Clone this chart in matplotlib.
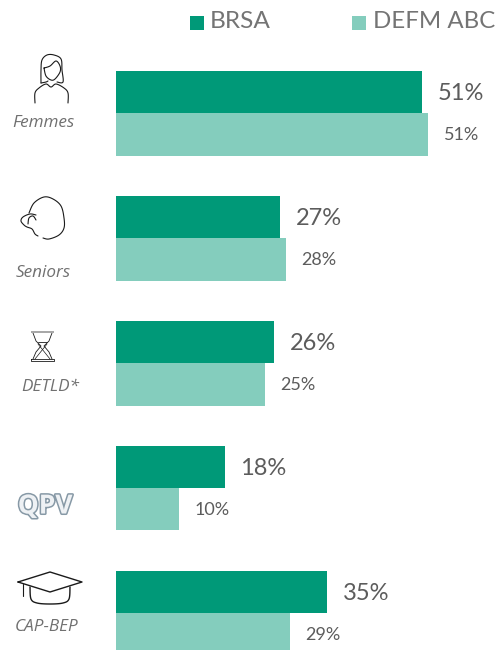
import numpy as np
import matplotlib
matplotlib.use('Agg')
import matplotlib.pyplot as plt
import matplotlib.patheffects as pe
from matplotlib.patches import Rectangle

categories = ['Femmes', 'Seniors', 'DETLD*', 'QPV', 'CAP-BEP']
brsa_bars = [50.8, 27.2, 26.2, 18.0, 35.0]
defm_bars = [51.8, 28.2, 24.7, 10.5, 28.9]
brsa_labels = ['51%', '27%', '26%', '18%', '35%']
defm_labels = ['51%', '28%', '25%', '10%', '29%']

DARK = '#009978'
LIGHT = '#84cdbd'
GREY = '#5c5c5c'
W, H = 498, 650


def smooth(pts, n=12):
    # catmull-rom through the points, just to get round icon outlines
    pts = np.array(pts, dtype=float)
    p = np.vstack([pts[0], pts, pts[-1]])
    out = []
    for i in range(1, len(p) - 2):
        for t in np.linspace(0, 1, n, endpoint=False):
            out.append(0.5 * (2 * p[i] + (p[i + 1] - p[i - 1]) * t
                              + (2 * p[i - 1] - 5 * p[i] + 4 * p[i + 1] - p[i + 2]) * t ** 2
                              + (3 * p[i] - p[i - 1] - 3 * p[i + 1] + p[i + 2]) * t ** 3))
    out.append(pts[-1])
    return np.array(out)


def stroke(ax, pts, curved=True, lw=0.8, color='#1a1a1a'):
    xy = smooth(pts) if curved else np.array(pts, dtype=float)
    ax.plot(xy[:, 0], xy[:, 1], color=color, lw=lw, solid_capstyle='round', solid_joinstyle='round')


def draw_icons(ov):
    # woman
    stroke(ov, [(41, 83), (41, 70), (42, 60), (47, 55), (54, 55), (61, 59), (62, 70), (63, 82), (57, 82)])
    stroke(ov, [(41, 83), (46, 82), (48, 81)])
    stroke(ov, [(44, 68), (50, 66), (56, 61), (60, 66), (60, 72), (55, 79), (51, 80), (46, 76), (44, 68)])
    stroke(ov, [(35, 103), (35, 93), (39, 88), (46, 84), (51, 87), (56, 84), (64, 88), (68, 93), (68, 103)])
    # senior head
    stroke(ov, [(29, 213), (34, 203), (44, 197), (53, 199), (61, 206), (64, 218), (64, 228), (59, 235), (49, 239), (43, 238)])
    stroke(ov, [(36, 215), (30, 214), (23, 217), (21, 221), (24, 225), (27, 227), (32, 229), (35, 234), (38, 236)])
    stroke(ov, [(36, 220), (33, 216), (29, 218), (28, 224)])
    # hourglass
    ov.add_patch(Rectangle((31, 330.5), 23, 2.5, color='#a8a8a8', zorder=3, linewidth=0))
    stroke(ov, [(31, 359), (54, 359), (54, 361), (31, 361), (31, 359)], curved=False, lw=0.6)
    stroke(ov, [(33, 333), (36, 341), (41, 346), (36, 352), (33, 359)], curved=False, lw=0.6)
    stroke(ov, [(52, 333), (49, 341), (44, 346), (49, 352), (52, 359)], curved=False, lw=0.6)
    stroke(ov, [(38, 342), (47, 342)], curved=False, lw=0.6)
    stroke(ov, [(35, 359), (47, 344)], curved=False, lw=0.5)
    stroke(ov, [(50, 359), (38, 344)], curved=False, lw=0.5)
    # graduation cap
    stroke(ov, [(18, 582), (50, 572), (82, 582), (50, 592), (18, 582)], curved=False, lw=1.0)
    stroke(ov, [(23, 584), (23, 596)], curved=False)
    stroke(ov, [(30, 587), (31, 599), (37, 603), (50, 604), (63, 603), (69, 599), (70, 587)], lw=1.0)


fig = plt.figure(figsize=(W / 100, H / 100), dpi=100)
ax = fig.add_axes([0, 0, 1, 1])

scale = 6.03  # px per percent
pitch = 125
ax.set_xlim(-116 / scale, (W - 116) / scale)
ax.set_ylim((H - 113) / pitch, -113 / pitch)
ax.axis('off')

rows = np.arange(len(categories))
bar_h = 42.5 / pitch
ax.barh(rows - bar_h / 2, brsa_bars, height=bar_h, color=DARK, linewidth=0)
ax.barh(rows + bar_h / 2, defm_bars, height=bar_h, color=LIGHT, linewidth=0)

for i in rows:
    ax.annotate(brsa_labels[i], (brsa_bars[i], i - bar_h / 2), xytext=(39, -2), textcoords='offset pixels',
                ha='center', va='center', fontsize=17, color=GREY, family='Lato')
    ax.annotate(defm_labels[i], (defm_bars[i], i + bar_h / 2), xytext=(33, -1), textcoords='offset pixels',
                ha='center', va='center', fontsize=13, color=GREY, family='Lato')

# overlay in pixel coordinates for legend, icons and row captions
ov = fig.add_axes([0, 0, 1, 1], facecolor='none')
ov.set_xlim(0, W)
ov.set_ylim(H, 0)
ov.axis('off')

ov.add_patch(Rectangle((190, 16), 14, 14, color=DARK, linewidth=0))
ov.add_patch(Rectangle((352, 16), 14, 14, color=LIGHT, linewidth=0))
ov.text(210, 22, 'BRSA', fontsize=17.6, color='#747474', family='Lato', va='center', ha='left')
ov.text(373, 22, 'DEFM ABC', fontsize=17.3, color='#747474', family='Lato', va='center', ha='left')

caption_x = [43, 43, 50, 45, 47]
caption_y = [123, 273, 387, 507, 627]
for i, name in enumerate(categories):
    if name == 'QPV':
        ov.text(caption_x[i], caption_y[i] - 1, name, fontsize=19, fontweight='bold', family='Open Sans',
                color='#eef1f4', ha='center', va='center',
                path_effects=[pe.withStroke(linewidth=2.2, foreground='#8799a6')])
    else:
        ov.text(caption_x[i], caption_y[i], name, fontsize=12.3, style='italic', family='Open Sans',
                color='#707070', ha='center', va='center')

draw_icons(ov)

fig.savefig('out.png', dpi=100)
